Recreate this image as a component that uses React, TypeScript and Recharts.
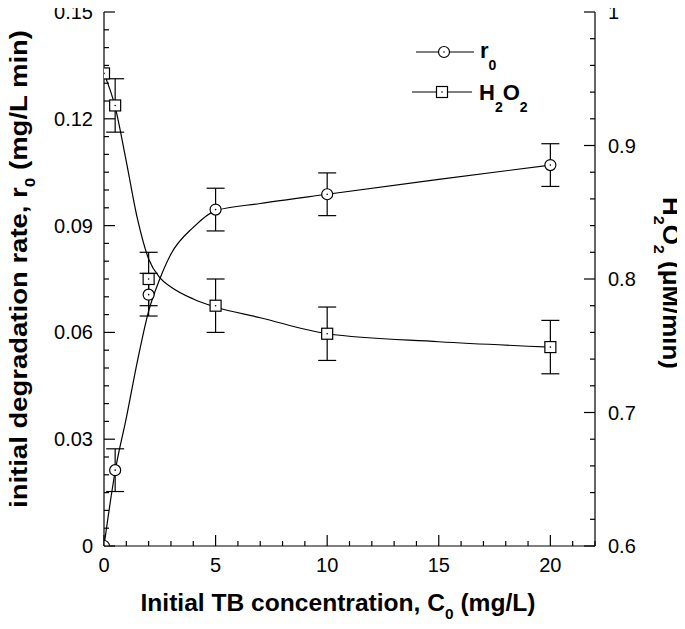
import React from "react";
import { ComposedChart, ErrorBar, Line, Scatter, XAxis, YAxis } from "recharts";

// measured points
const conc = [0, 0.5, 2, 5, 10, 20];
const r0 = [0, 0.0213, 0.0706, 0.0945, 0.0988, 0.107];
const r0Err = [0, 0.006, 0.006, 0.006, 0.006, 0.006];
const h2o2 = [0.954, 0.93, 0.8, 0.78, 0.759, 0.749];
const h2o2Err = [0, 0.02, 0.02, 0.02, 0.02, 0.02];

// fitted curves
const fitX = [0, 0.5, 1, 1.5, 2, 2.5, 3, 4, 5, 7, 10, 15, 20];
const r0Fit = [0, 0.021, 0.036, 0.052, 0.066, 0.075, 0.082, 0.0895, 0.0942, 0.0962, 0.0988, 0.103, 0.107];
const h2o2Fit = [0.954, 0.929, 0.888, 0.845, 0.815, 0.801, 0.794, 0.785, 0.779, 0.771, 0.759, 0.753, 0.749];

const xTicks = [0, 1, 2, 3, 4, 5, 6, 7, 8, 9, 10, 11, 12, 13, 14, 15, 16, 17, 18, 19, 20, 21, 22];
const leftTicks = [
  0, 0.005, 0.01, 0.015, 0.02, 0.025, 0.03, 0.035, 0.04, 0.045, 0.05, 0.055, 0.06, 0.065,
  0.07, 0.075, 0.08, 0.085, 0.09, 0.095, 0.1, 0.105, 0.11, 0.115, 0.12, 0.125, 0.13, 0.135,
  0.14, 0.145, 0.15,
];
const rightTicks = [
  0.6, 0.62, 0.64, 0.66, 0.68, 0.7, 0.72, 0.74, 0.76, 0.78, 0.8, 0.82, 0.84, 0.86, 0.88,
  0.9, 0.92, 0.94, 0.96, 0.98, 1,
];

const r0Points = conc.map((x, i) => ({ x, y: r0[i], err: r0Err[i] }));
const h2o2Points = conc.map((x, i) => ({ x, y: h2o2[i], err: h2o2Err[i] }));
const r0Curve = fitX.map((x, i) => ({ x, y: r0Fit[i] }));
const h2o2Curve = fitX.map((x, i) => ({ x, y: h2o2Fit[i] }));

const FONT = "'Liberation Sans', Arial, Helvetica, sans-serif";
const W = 685;
const H = 629;

const isMult = (v: number, step: number) => Math.abs(v / step - Math.round(v / step)) < 1e-6;

const BottomTick = (props: any) => {
  const { x, y, payload } = props;
  const major = isMult(payload.value, 5);
  return (
    <g>
      <line x1={x} x2={x} y1={y} y2={y - (major ? 11 : 5)} stroke="#000" strokeWidth={1.2} />
      {major && (
        <text x={x} y={y + 26} textAnchor="middle" fontSize={20} fontFamily={FONT} fill="#000">
          {payload.value}
        </text>
      )}
    </g>
  );
};

const TopTick = (props: any) => {
  const { x, y, payload } = props;
  const major = isMult(payload.value, 5);
  return <line x1={x} x2={x} y1={y} y2={y + (major ? 11 : 5)} stroke="#000" strokeWidth={1.2} />;
};

const LeftTick = (props: any) => {
  const { x, y, payload } = props;
  const major = isMult(payload.value, 0.03);
  return (
    <g>
      <line x1={x} x2={x + (major ? 11 : 5)} y1={y} y2={y} stroke="#000" strokeWidth={1.2} />
      {major && (
        <text x={x - 11} y={y + 7} textAnchor="end" fontSize={20} fontFamily={FONT} fill="#000">
          {String(payload.value)}
        </text>
      )}
    </g>
  );
};

const RightTick = (props: any) => {
  const { x, y, payload } = props;
  const major = isMult(payload.value, 0.1);
  return (
    <g>
      <line x1={x} x2={x - (major ? 11 : 5)} y1={y} y2={y} stroke="#000" strokeWidth={1.2} />
      {major && (
        <text x={x + 13} y={y + 7} textAnchor="start" fontSize={20} fontFamily={FONT} fill="#000">
          {String(payload.value)}
        </text>
      )}
    </g>
  );
};

const CircleMark = (props: any) => {
  const { cx, cy } = props;
  return (
    <g>
      <circle cx={cx} cy={cy} r={5.5} fill="#fff" stroke="#000" strokeWidth={1.2} />
      <circle cx={cx} cy={cy} r={0.8} fill="#000" />
    </g>
  );
};

const SquareMark = (props: any) => {
  const { cx, cy } = props;
  return (
    <g>
      <rect x={cx - 5.5} y={cy - 5.5} width={11} height={11} fill="#fff" stroke="#000" strokeWidth={1.2} />
      <circle cx={cx} cy={cy} r={0.8} fill="#000" />
    </g>
  );
};

export default function App() {
  return (
    <div style={{ position: "relative", width: W, height: H, margin: "-8px 0 0 -8px" }}>
      <ComposedChart width={W} height={H} margin={{ top: 12, right: 0, bottom: 0, left: 0 }}>
        <XAxis
          dataKey="x"
          type="number"
          domain={[0, 22]}
          ticks={xTicks}
          interval={0}
          height={83}
          tickSize={0}
          tickMargin={0}
          tickLine={false}
          tick={<BottomTick />}
          axisLine={{ stroke: "#000", strokeWidth: 1.2 }}
          allowDataOverflow
        />
        <XAxis
          xAxisId="top"
          orientation="top"
          type="number"
          domain={[0, 22]}
          ticks={xTicks}
          interval={0}
          height={0}
          tickSize={0}
          tickMargin={0}
          tickLine={false}
          tick={<TopTick />}
          axisLine={{ stroke: "#000", strokeWidth: 1.2 }}
          allowDataOverflow
        />
        <YAxis
          yAxisId="left"
          dataKey="y"
          type="number"
          domain={[0, 0.15]}
          ticks={leftTicks}
          interval={0}
          width={104}
          tickSize={0}
          tickMargin={0}
          tickLine={false}
          tick={<LeftTick />}
          axisLine={{ stroke: "#000", strokeWidth: 1.2 }}
          allowDataOverflow
        />
        <YAxis
          yAxisId="right"
          orientation="right"
          dataKey="y"
          type="number"
          domain={[0.6, 1]}
          ticks={rightTicks}
          interval={0}
          width={90}
          tickSize={0}
          tickMargin={0}
          tickLine={false}
          tick={<RightTick />}
          axisLine={{ stroke: "#000", strokeWidth: 1.2 }}
          allowDataOverflow
        />
        <Line
          data={r0Curve}
          yAxisId="left"
          dataKey="y"
          type="monotone"
          stroke="#000"
          strokeWidth={1.2}
          dot={false}
          isAnimationActive={false}
        />
        <Line
          data={h2o2Curve}
          yAxisId="right"
          dataKey="y"
          type="monotone"
          stroke="#000"
          strokeWidth={1.2}
          dot={false}
          isAnimationActive={false}
        />
        <Scatter data={r0Points} yAxisId="left" shape={<CircleMark />} isAnimationActive={false}>
          <ErrorBar dataKey="err" direction="y" width={9} stroke="#000" strokeWidth={1.2} />
        </Scatter>
        <Scatter data={h2o2Points} yAxisId="right" shape={<SquareMark />} isAnimationActive={false}>
          <ErrorBar dataKey="err" direction="y" width={9} stroke="#000" strokeWidth={1.2} />
        </Scatter>
      </ComposedChart>
      <svg
        width={W}
        height={H}
        style={{ position: "absolute", left: 0, top: 0, pointerEvents: "none" }}
        fontFamily={FONT}
        fontWeight="bold"
      >
        {/* legend */}
        <line x1={416} x2={474} y1={52} y2={52} stroke="#000" strokeWidth={1.2} />
        <CircleMark cx={444} cy={52} />
        <text x={480} y={58} fontSize={22}>
          r<tspan fontSize={14} dy={12}>0</tspan>
        </text>
        <line x1={412} x2={472} y1={92} y2={92} stroke="#000" strokeWidth={1.2} />
        <SquareMark cx={442} cy={92} />
        <text x={479} y={100} fontSize={22}>
          H<tspan fontSize={14} dy={12}>2</tspan>
          <tspan dy={-12}>O</tspan>
          <tspan fontSize={14} dy={12}>2</tspan>
        </text>
        {/* x title */}
        <text x={338} y={611} fontSize={24} textAnchor="middle" textLength={395} lengthAdjust="spacingAndGlyphs">
          Initial TB concentration, C<tspan fontSize={15} dy={8}>0</tspan>
          <tspan dy={-8}> (mg/L)</tspan>
        </text>
        {/* left title */}
        <text
          x={27}
          y={269}
          fontSize={24}
          textAnchor="middle"
          textLength={478}
          lengthAdjust="spacingAndGlyphs"
          transform="rotate(-90 27 269)"
        >
          initial degradation rate, r<tspan fontSize={15} dy={8}>0</tspan>
          <tspan dy={-8}> (mg/L min)</tspan>
        </text>
        {/* right title */}
        <text
          x={663}
          y={283}
          fontSize={24}
          textAnchor="middle"
          textLength={172}
          lengthAdjust="spacingAndGlyphs"
          transform="rotate(90 663 283)"
        >
          H<tspan fontSize={15} dy={9}>2</tspan>
          <tspan dy={-9}>O</tspan>
          <tspan fontSize={15} dy={9}>2</tspan>
          <tspan dy={-9}> (μM/min)</tspan>
        </text>
      </svg>
    </div>
  );
}
